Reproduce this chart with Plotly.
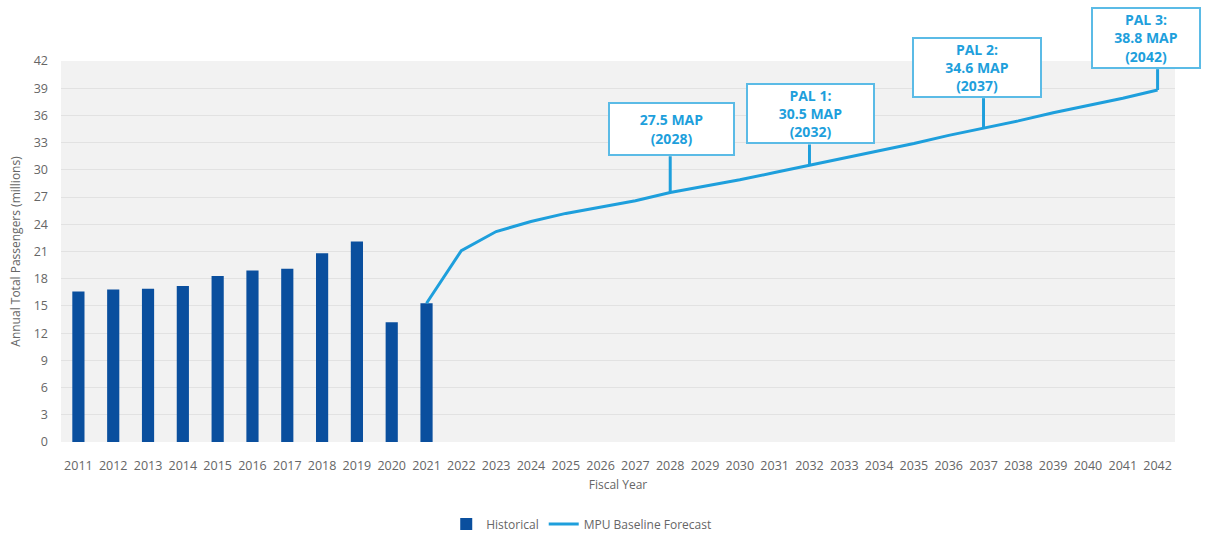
import plotly.graph_objects as go

years = [str(y) for y in range(2011, 2043)]
hist_years = [str(y) for y in range(2011, 2022)]
hist_values = [16.6, 16.8, 16.9, 17.2, 18.3, 18.9, 19.1, 20.8, 22.1, 13.2, 15.3]
fc_years = [str(y) for y in range(2021, 2043)]
fc_values = [15.3, 21.1, 23.2, 24.3, 25.2, 25.9, 26.6, 27.5, 28.2, 28.9, 29.7, 30.5,
             31.3, 32.1, 32.9, 33.8, 34.6, 35.4, 36.3, 37.1, 37.9, 38.8]
y_ticks = list(range(0, 43, 3))

callout_years = ["2028", "2032", "2037", "2042"]
callout_values = [27.5, 30.5, 34.6, 38.8]
callout_texts = ["27.5 MAP<br>(2028)", "PAL 1:<br>30.5 MAP<br>(2032)",
                 "PAL 2:<br>34.6 MAP<br>(2037)", "PAL 3:<br>38.8 MAP<br>(2042)"]
callout_box_bottom = [31.5, 32.8, 37.9, 41.1]
callout_xshift = [1, 1, -7, -12]
callout_width = [119, 121, 122, 102]
callout_height = [46, 53, 53, 54]

dark_blue = "#0a4f9e"
light_blue = "#1e9fdc"
gray = "#666666"

fig = go.Figure()
fig.add_trace(go.Bar(x=hist_years, y=hist_values, name="Historical",
                     marker=dict(color=dark_blue, line=dict(width=0))))
fig.add_trace(go.Scatter(x=fc_years, y=fc_values, name="MPU Baseline Forecast",
                         mode="lines", line=dict(color=light_blue, width=3)))

for yr, v, txt, bb, xs, w, h in zip(callout_years, callout_values, callout_texts,
                                    callout_box_bottom, callout_xshift, callout_width,
                                    callout_height):
    xi = years.index(yr)
    fig.add_shape(type="line", xref="x", yref="y", x0=xi, x1=xi, y0=v, y1=bb,
                  line=dict(color=light_blue, width=3), layer="above")
    fig.add_annotation(x=xi, y=bb, xref="x", yref="y", text="<b>" + txt + "</b>",
                       showarrow=False, yanchor="bottom", xanchor="center", xshift=xs,
                       font=dict(family="Open Sans", size=14, color=light_blue),
                       bgcolor="white", bordercolor="#5bbbe6", borderwidth=2,
                       borderpad=2, width=w, height=h, valign="middle", align="center")

fig.update_layout(
    width=1215, height=536,
    margin=dict(l=61, r=40, t=61, b=94, autoexpand=False),
    paper_bgcolor="white", plot_bgcolor="#f2f2f2",
    font=dict(family="Open Sans", size=12, color=gray),
    bargap=0.65,
    showlegend=True,
    legend=dict(orientation="h", x=0.467, xanchor="center", y=-0.215, yanchor="middle",
                font=dict(size=12, color=gray), itemwidth=30, tracegroupgap=0),
    xaxis=dict(type="category", categoryorder="array", categoryarray=years,
               range=[-0.5, 31.5], showgrid=False, ticks="", automargin=False,
               ticklabelstandoff=14, tickfont=dict(size=12.5, color=gray),
               title=dict(text="Fiscal Year", font=dict(size=12, color=gray), standoff=8)),
    yaxis=dict(range=[0, 42], tickvals=y_ticks, gridcolor="#e2e2e2", gridwidth=1,
               zeroline=False, automargin=False, ticklabelstandoff=12,
               tickfont=dict(size=12.5, color=gray),
               title=dict(text="Annual Total Passengers (millions)",
                          font=dict(size=12, color=gray), standoff=10)),
)

fig.write_html("out.html")
